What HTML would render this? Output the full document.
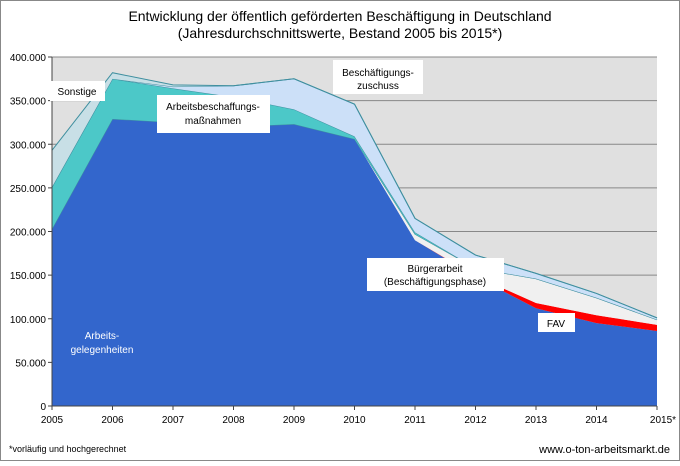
<!DOCTYPE html>
<html><head><meta charset="utf-8"><style>
body{margin:0;background:#fff;font-family:"Liberation Sans",sans-serif}
svg text{font-family:"Liberation Sans",sans-serif}
</style></head><body>
<svg width="680" height="461" viewBox="0 0 680 461">
<rect x="0.5" y="0.5" width="679" height="460" fill="#fff" stroke="#888"/>
<text x="340" y="21" text-anchor="middle" font-size="14">Entwicklung der öffentlich geförderten Beschäftigung in Deutschland</text>
<text x="340" y="38" text-anchor="middle" font-size="14">(Jahresdurchschnittswerte, Bestand 2005 bis 2015*)</text>
<rect x="52" y="57" width="605" height="349" fill="#e0e0e0"/>
<g id="grid"></g><g id="areas"></g><g id="axes"></g>
<g>
<rect x="50" y="81" width="55" height="20" fill="#fff"/><text x="77" y="95" text-anchor="middle" font-size="10">Sonstige</text>
<rect x="157" y="95" width="113" height="38" fill="#fff"/><text x="213" y="110" text-anchor="middle" font-size="10">Arbeitsbeschaffungs-</text><text x="213" y="124" text-anchor="middle" font-size="10">maßnahmen</text>
<rect x="333" y="60" width="90" height="34" fill="#fff"/><text x="378" y="76" text-anchor="middle" font-size="10">Beschäftigungs-</text><text x="378" y="89" text-anchor="middle" font-size="10">zuschuss</text>
<rect x="367" y="258" width="137" height="33" fill="#fff"/><text x="435" y="272" text-anchor="middle" font-size="10">Bürgerarbeit</text><text x="435" y="285" text-anchor="middle" font-size="10">(Beschäftigungsphase)</text>
<rect x="538" y="313" width="37" height="19" fill="#fff"/><text x="556" y="327" text-anchor="middle" font-size="10">FAV</text>
<text x="102" y="339" text-anchor="middle" font-size="10" fill="#fff">Arbeits-</text><text x="102" y="353" text-anchor="middle" font-size="10" fill="#fff">gelegenheiten</text>
</g>
<text x="9" y="452" font-size="9">*vorläufig und hochgerechnet</text>
<text x="670" y="453" text-anchor="end" font-size="11">www.o-ton-arbeitsmarkt.de</text>
</svg>
<script>
const years=["2005","2006","2007","2008","2009","2010","2011","2012","2013","2014","2015*"];
const agh=[203000,329000,325000,320000,323000,306000,190000,148000,112000,95000,86000];
const fav=[0,0,0,0,0,0,0,1000,6000,9000,7000];
const buerger=[0,0,0,0,0,0,7000,9000,28000,20000,6000];
const abm=[48000,46000,39000,34000,17000,3000,2000,0,0,0,0];
const bez=[0,0,2000,13000,35000,37000,16000,15000,6000,5000,2000];
const sonstige=[42000,7000,2000,0,0,0,0,0,0,0,0];
const yTicks=[0,50000,100000,150000,200000,250000,300000,350000,400000];
const NS="http://www.w3.org/2000/svg";
const X=i=>52+i*60.5, Y=v=>406-v*349/400000;
const grid=document.getElementById('grid'),areas=document.getElementById('areas'),axes=document.getElementById('axes');
function mk(tag,attrs,parent){const e=document.createElementNS(NS,tag);for(const k in attrs)e.setAttribute(k,attrs[k]);parent.appendChild(e);return e;}
yTicks.forEach(t=>{
 if(t>0){const l=mk('line',{x1:52,x2:657,y1:Y(t),y2:Y(t),stroke:'#888','stroke-width':1},grid);
 
 }
 const tx=mk('text',{x:46,y:Y(t)+4,'text-anchor':'end','font-size':10},axes);tx.textContent=t===0?"0":(t/1000).toFixed(3);
 
 
 mk('line',{x1:48,x2:52,y1:Y(t),y2:Y(t),stroke:'#444'},axes);
});
const series=[["agh",agh,"#3366cc"],["fav",fav,"#ff0000"],["buergerarbeit",buerger,"#f0f0f0"],["abm",abm,"#4cc8c8"],["bez",bez,"#cce0f8"],["sonstige",sonstige,"#c8dfe6"]];
let base=years.map(()=>0);
series.forEach(([name,vals,col])=>{
 const top=base.map((b,i)=>b+vals[i]);
 let d="M"+top.map((v,i)=>X(i)+","+Y(v)).join("L");
 for(let i=years.length-1;i>=0;i--)d+="L"+X(i)+","+Y(base[i]);
 const p=mk('path',{d:d+"Z",fill:col},areas);
 
 
 if(name!=="agh"&&name!=="fav"){const l=mk('polyline',{points:top.map((v,i)=>X(i)+","+Y(v)).join(" "),fill:'none',stroke:'#3f8f9f','stroke-width':1},areas);
 
 }
 base=top;
});
mk('line',{x1:52,x2:52,y1:57,y2:406,stroke:'#444'},axes);
mk('line',{x1:52,x2:657,y1:406,y2:406,stroke:'#444'},axes);
years.forEach((y,i)=>{
 mk('line',{x1:X(i),x2:X(i),y1:406,y2:410,stroke:'#444'},axes);
 const t=mk('text',{x:X(i)+(i===10?6:0),y:423,'text-anchor':'middle','font-size':10},axes);t.textContent=y;
 
 
});
</script>
</body></html>
